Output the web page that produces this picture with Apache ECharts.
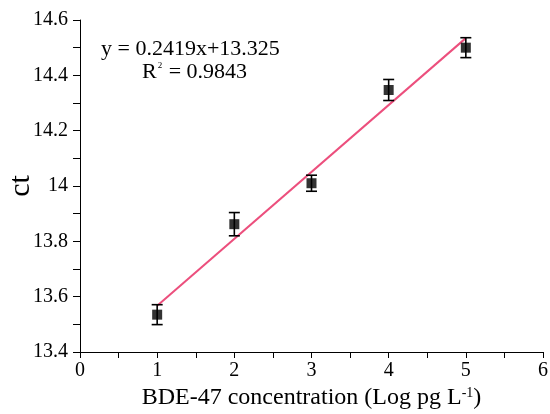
<!DOCTYPE html>
<html><head><meta charset="utf-8">
<script src="https://cdn.jsdelivr.net/npm/echarts@6/dist/echarts.min.js"></script>
<style>html,body{margin:0;padding:0;background:#fff}#c{width:550px;height:414px}</style>
</head><body><div id="c"></div>
<script>
var xValues = [1, 2, 3, 4, 5];
var ctValues = [13.535, 13.862, 14.01, 14.347, 14.50];
var ctErrors = [0.036, 0.042, 0.029, 0.038, 0.036];
var fitSlope = 0.2419, fitIntercept = 13.325;
var fitX = [1, 5];
var eqText = 'y = 0.2419x+13.325';
var r2Text = '0.9843';

var FONT = '"Liberation Serif", "Times New Roman", serif';
var pts = xValues.map(function(x,i){return [x, ctValues[i]];});
var errs = xValues.map(function(x,i){return [x, ctValues[i]-ctErrors[i], ctValues[i]+ctErrors[i]];});
var fit = fitX.map(function(x){return [x, fitSlope*x+fitIntercept];});

var chart = echarts.init(document.getElementById('c'));
chart.setOption({
  animation:false,
  grid:{left:80, top:20, width:463, height:332, containLabel:false, outerBoundsMode:'none'},
  xAxis:{type:'value', min:0, max:6, interval:1,
    name:'BDE-47 concentration (Log pg L{sup|-1})', nameLocation:'middle', nameGap:34,
    nameTextStyle:{fontFamily:FONT, fontSize:24, color:'#000', rich:{sup:{fontFamily:FONT, fontSize:14, color:'#000', verticalAlign:'top', padding:[0,0,10,0]}}},
    axisLine:{lineStyle:{color:'#000', width:1}},
    axisTick:{length:6, lineStyle:{color:'#000'}},
    minorTick:{show:true, splitNumber:2, length:6, lineStyle:{color:'#000'}},
    axisLabel:{fontFamily:FONT, fontSize:20, color:'#000', margin:9},
    splitLine:{show:false}},
  yAxis:{type:'value', min:13.4, max:14.6, interval:0.2,
    name:'ct', nameLocation:'middle', nameGap:44, nameMoveOverlap:false,
    nameTextStyle:{fontFamily:FONT, fontSize:30, color:'#000'},
    axisLine:{show:true, lineStyle:{color:'#000', width:1}},
    axisTick:{show:true, length:7, lineStyle:{color:'#000'}},
    minorTick:{show:true, splitNumber:2, length:7, lineStyle:{color:'#000'}},
    axisLabel:{fontFamily:FONT, fontSize:20, color:'#000', margin:12},
    splitLine:{show:false}},
  series:[
    {type:'line', data:fit, showSymbol:false, symbol:'none', lineStyle:{color:'#ec4f7d', width:2}, z:2},
    {type:'custom', data:errs, z:3,
     renderItem:function(params, api){
       var x=api.value(0);
       var lo=api.coord([x, api.value(1)]), hi=api.coord([x, api.value(2)]);
       var w=5.5, st={stroke:'#000', lineWidth:1.6};
       return {type:'group', children:[
         {type:'line', shape:{x1:lo[0],y1:lo[1],x2:hi[0],y2:hi[1]}, style:st},
         {type:'line', shape:{x1:lo[0]-w,y1:lo[1],x2:lo[0]+w,y2:lo[1]}, style:st},
         {type:'line', shape:{x1:hi[0]-w,y1:hi[1],x2:hi[0]+w,y2:hi[1]}, style:st}
       ]};
     }},
    {type:'scatter', data:pts, symbol:'rect', symbolSize:10, itemStyle:{color:'#000'}, z:4}
  ],
  graphic:[
    {type:'text', left:101, top:38, style:{text:eqText, font:'22px '+FONT, fill:'#000'}},
    {type:'text', left:142, top:61, style:{text:'R{s|2} = '+r2Text, font:'22px '+FONT, fill:'#000',
       rich:{s:{fontSize:9, fontFamily:FONT, fill:'#000', verticalAlign:'top', padding:[0,1,12,1]}}}}
  ]
});
</script></body></html>
